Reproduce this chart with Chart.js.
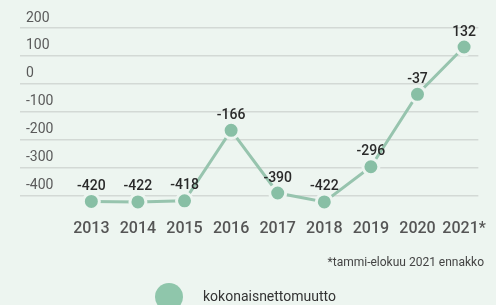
<!DOCTYPE html>
<html lang="fi">
<head>
<meta charset="UTF-8">
<title>Kokonaisnettomuutto</title>
<script src="https://cdn.jsdelivr.net/npm/chart.js"></script>
<style>
    html, body { margin: 0; padding: 0; background: #edf5f0; }
    #wrap { width: 496px; height: 305px; position: relative; }
</style>
</head>
<body>
<div id="wrap"><canvas id="chart"></canvas></div>

<script>
    const categories = ['2013', '2014', '2015', '2016', '2017', '2018', '2019', '2020', '2021*'];
    const netMigration = [-420, -422, -418, -166, -390, -422, -296, -37, 132];
    const yTicks = [200, 100, 0, -100, -200, -300, -400];
    const seriesName = 'kokonaisnettomuutto';
    const footnote = '*tammi-elokuu 2021 ennakko';

    const bg = '#edf5f0';
    const green = '#88bfa5';

    // value labels above each point
    const valueLabels = {
        id: 'valueLabels',
        afterDatasetsDraw(chart) {
            const ctx = chart.ctx;
            const meta = chart.getDatasetMeta(0);
            ctx.save();
            ctx.font = '500 14px Roboto';
            ctx.fillStyle = '#2a2a2a';
            ctx.textAlign = 'center';
            ctx.textBaseline = 'middle';
            meta.data.forEach((pt, i) => {
                ctx.fillText(String(netMigration[i]), pt.x, pt.y - 15);
            });
            ctx.restore();
        }
    };

    // footnote + round legend under the axis
    const bottomNotes = {
        id: 'bottomNotes',
        afterDraw(chart) {
            const ctx = chart.ctx;
            ctx.save();
            ctx.font = '12px Roboto';
            ctx.fillStyle = '#444';
            ctx.textAlign = 'right';
            ctx.textBaseline = 'middle';
            ctx.fillText(footnote, 484, 263);

            ctx.beginPath();
            ctx.arc(169, 297, 14, 0, Math.PI * 2);
            ctx.fillStyle = '#8fc6ab';
            ctx.fill();

            ctx.font = '14px Roboto';
            ctx.fillStyle = '#333';
            ctx.textAlign = 'left';
            ctx.fillText(seriesName, 203, 297);
            ctx.restore();
        }
    };

    const ctx = document.getElementById('chart').getContext('2d');
    new Chart(ctx, {
        type: 'line',
        data: {
            datasets: [{
                label: seriesName,
                data: netMigration.map((v, i) => ({ x: i, y: v })),
                borderColor: '#97c4ae',
                borderWidth: 3,
                tension: 0,
                pointRadius: 8,
                pointHoverRadius: 8,
                pointBackgroundColor: green,
                pointBorderColor: bg,
                pointBorderWidth: 3
            }]
        },
        options: {
            responsive: true,
            maintainAspectRatio: false,
            animation: false,
            clip: false,
            layout: {
                autoPadding: false,
                padding: { left: 8, right: 6, top: 28, bottom: 56 }
            },
            plugins: {
                legend: { display: false },
                tooltip: { enabled: false }
            },
            scales: {
                x: {
                    type: 'linear',
                    min: -1.531,
                    max: 8.306,
                    border: { display: false },
                    grid: { display: false, drawTicks: false },
                    ticks: {
                        stepSize: 1,
                        includeBounds: false,
                        autoSkip: false,
                        maxRotation: 0,
                        padding: 10,
                        color: '#555',
                        font: { family: 'Roboto', size: 16, weight: 500 },
                        callback: v => (Number.isInteger(v) && categories[v]) ? categories[v] : ''
                    }
                },
                y: {
                    min: -450,
                    max: 200,
                    border: { display: false },
                    grid: {
                        drawTicks: false,
                        lineWidth: 1.5,
                        color: c => yTicks.includes(c.tick.value) ? '#d3d9d5' : 'transparent'
                    },
                    afterBuildTicks: axis => { axis.ticks = yTicks.map(v => ({ value: v })); },
                    ticks: {
                        mirror: true,
                        padding: 6,
                        labelOffset: -10,
                        color: '#5a5a5a',
                        font: { family: 'Roboto', size: 14 }
                    }
                }
            }
        },
        plugins: [valueLabels, bottomNotes]
    });
</script>
</body>
</html>
